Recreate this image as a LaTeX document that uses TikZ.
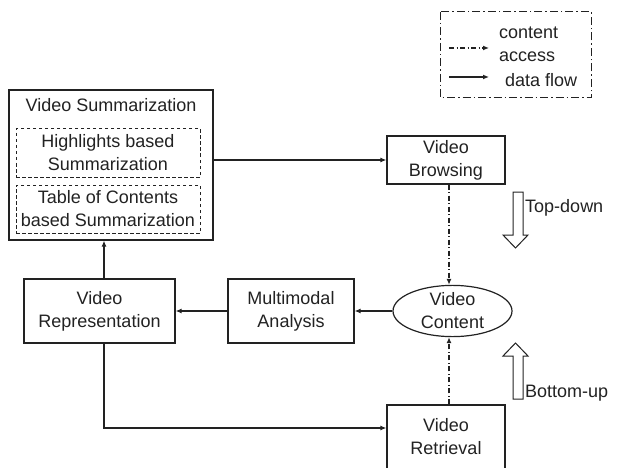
\documentclass[tikz,border=0pt]{standalone}
\usepackage{fontspec}
\setmainfont{Liberation Sans}
\usetikzlibrary{arrows.meta,calc,shapes.geometric}
\definecolor{ink}{HTML}{222222}
\tikzset{
  box/.style={draw=ink, line width=1.2pt, rectangle, align=center, inner sep=0pt},
  dbox/.style={draw=ink, line width=1pt, dash pattern=on 3.5pt off 2.5pt, rectangle, align=center, inner sep=0pt},
  flow/.style={draw=ink, line width=1.2pt, -{Latex[length=6pt,width=5pt]}},
  access/.style={draw=ink, line width=1.2pt, dash pattern=on 5pt off 2.5pt on 1pt off 2.5pt, -{Latex[length=6pt,width=5pt]}},
  blockarrow/.style={draw=ink, line width=1pt, fill=white},
  txt/.style={text=ink, inner sep=0pt, align=left}
}
\begin{document}
\begin{tikzpicture}[x=1pt,y=-1pt, font=\fontsize{18}{23}\selectfont, text=ink]
\useasboundingbox[fill=white] (0,0) rectangle (621,468);
% legend
\draw[ink, line width=1pt, dash pattern=on 8pt off 3pt on 1.5pt off 3pt] (440,12) rectangle (591,98);
\coordinate (la1) at (449,48); \coordinate (la2) at (489,48);
\coordinate (lf1) at (449,77); \coordinate (lf2) at (489,77);
\draw[access] (la1) -- (la2);
\draw[flow] (lf1) -- (lf2);
\node[txt, anchor=west] (lca) at (499,33) {content};
\node[txt, anchor=west] (lcb) at (499,57) {access};
\node[txt, anchor=west] (ldf) at (505,80) {data flow};
% summarization
\node[box, minimum width=204pt, minimum height=150pt] (sum) at (111,165) {};
\node[txt] (sumt) at (111,105) {Video Summarization};
\node[dbox, minimum width=184pt, minimum height=48pt] (hl) at (108,153) {Highlights based\\Summarization};
\node[dbox, minimum width=184pt, minimum height=48pt] (toc) at (108,209) {Table of Contents\\based Summarization};
% other nodes
\node[box, minimum width=118pt, minimum height=48pt] (browse) at (446,160) {Video\\Browsing};
\node[draw=ink, line width=1.2pt, ellipse, minimum width=119pt, minimum height=49pt, inner sep=0pt, align=center] (content) at (452.5,311) {Video\\Content};
\node[box, minimum width=126pt, minimum height=64pt] (multi) at (291,311) {Multimodal\\Analysis};
\node[box, minimum width=151pt, minimum height=64pt] (rep) at (99.5,311) {Video\\Representation};
\node[box, minimum width=118pt, minimum height=64pt] (retr) at (446,437) {Video\\Retrieval};
% connectors
\draw[flow] (sum.east |- browse) -- (browse.west);
\draw[access] (browse.south -| 449,0) -- (content.north -| 449,0);
\draw[access] (retr.north -| 449,0) -- (content.south -| 449,0);
\draw[flow] (content.west) -- (multi.east);
\draw[flow] (multi.west) -- (rep.east);
\draw[flow] (rep.north -| 104,0) -- (sum.south -| 104,0);
\draw[flow] (rep.south -| 104,0) |- ($(retr.west)+(0,-9)$);
% block arrows
\draw[blockarrow] (513,192) -- (523,192) -- (523,235) -- (528,235) -- (515.5,248) -- (503,235) -- (513,235) -- cycle;
\node[txt, anchor=west] (td) at (525,208) {Top-down};
\draw[blockarrow] (513,399) -- (523,399) -- (523,356) -- (528,356) -- (515.5,343) -- (503,356) -- (513,356) -- cycle;
\node[txt, anchor=west] (bu) at (525,393) {Bottom-up};
\end{tikzpicture}
\end{document}
